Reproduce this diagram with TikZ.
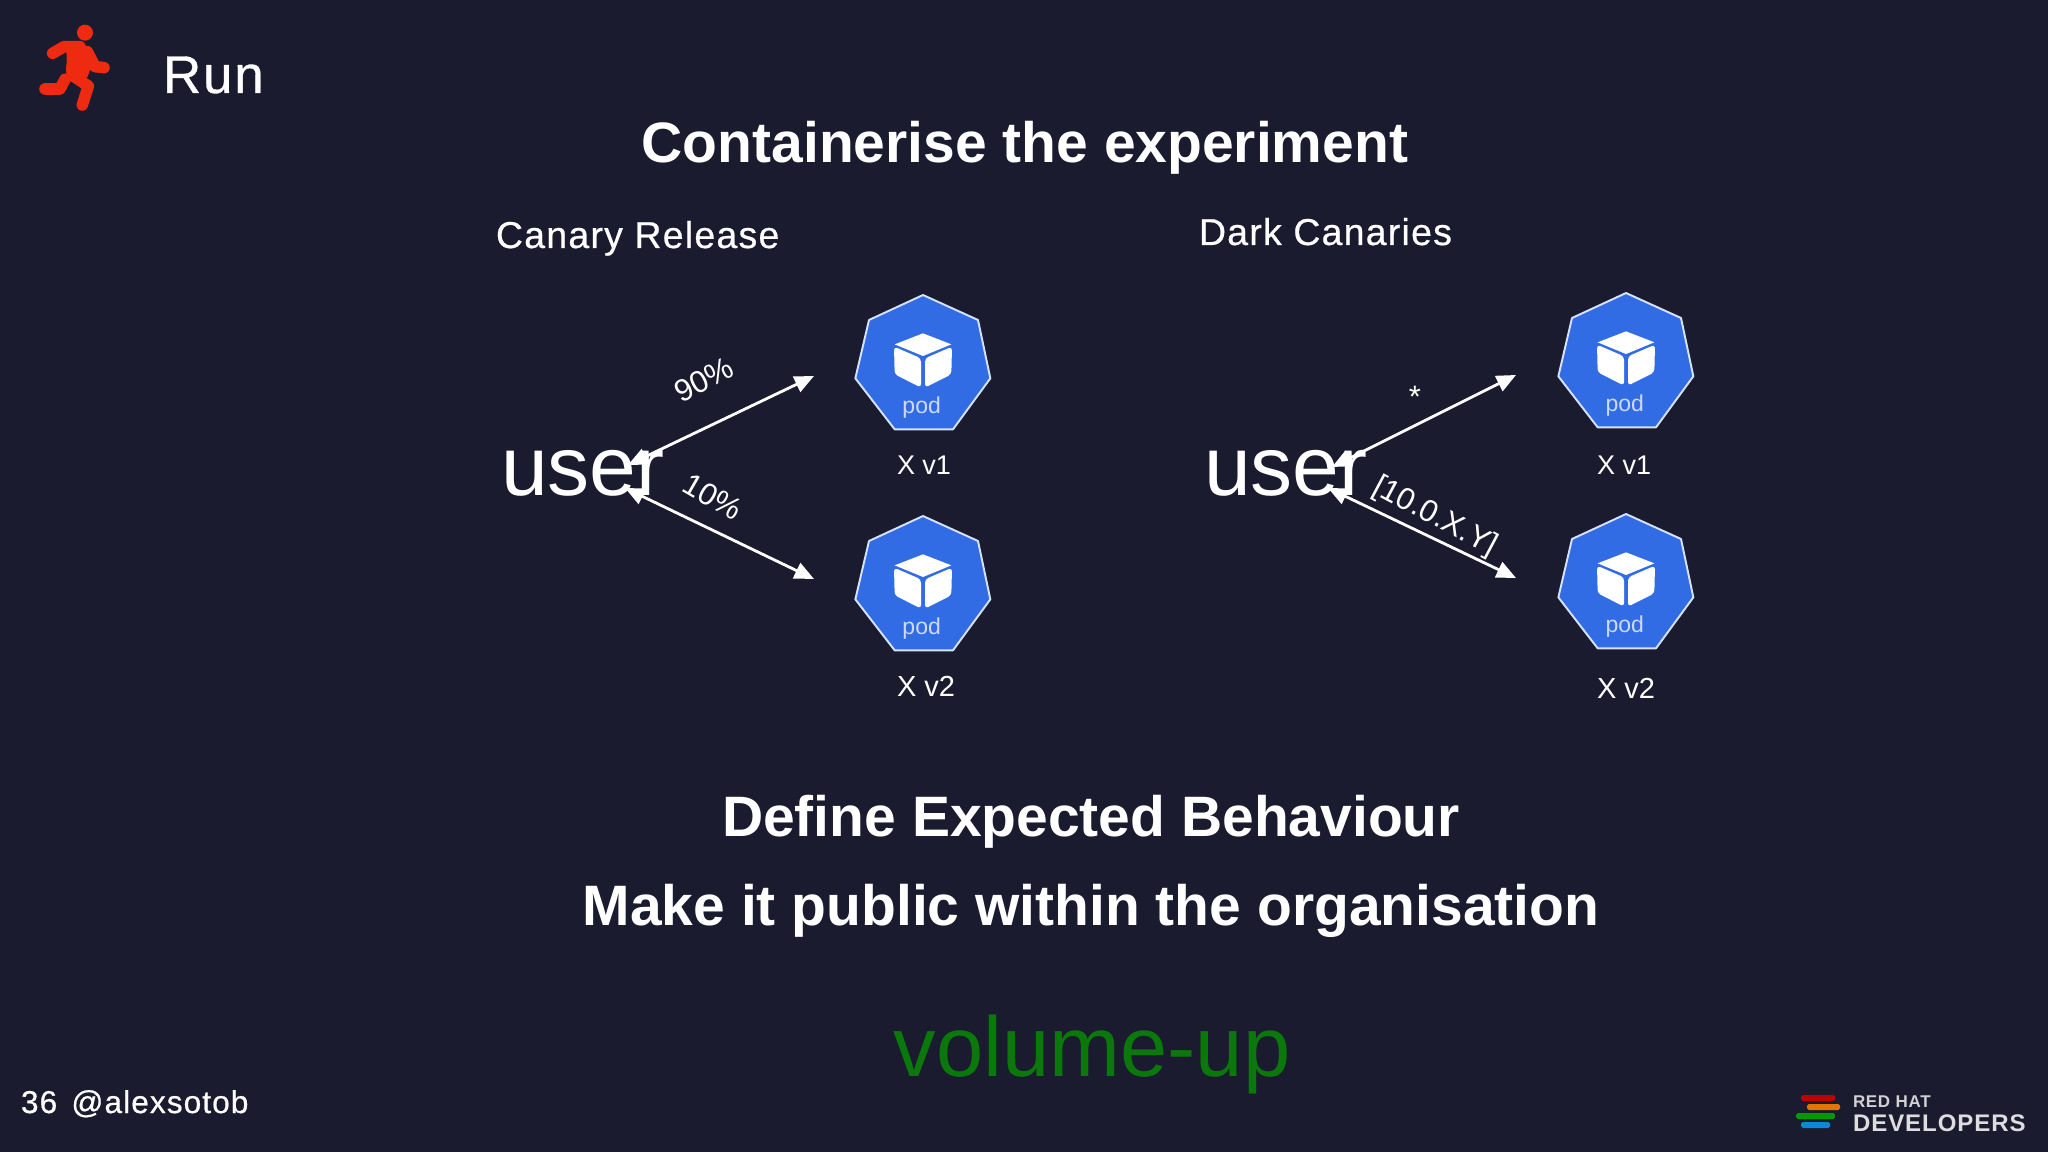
\documentclass[tikz,border=0pt]{standalone}
\usepackage{fontspec}
\setmainfont{Liberation Sans}
\newfontfamily\uifont{Liberation Sans}[LetterSpace=3.4,FakeBold=0.6]
\newfontfamily\logofont{Liberation Sans}[LetterSpace=4]
\usetikzlibrary{arrows.meta}
\definecolor{slidebg}{HTML}{1A1B2E}
\definecolor{podblue}{HTML}{326CE5}
\definecolor{runred}{HTML}{EE2A10}
\definecolor{volgreen}{HTML}{0A780A}
\newcommand\pxf[1]{\fontsize{\fpeval{#1*0.56906}}{\fpeval{#1*0.68}}\selectfont}
\tikzset{
  x=0.02cm,y=-0.02cm,
  txt/.style={text=white,inner sep=0pt,outer sep=0pt,anchor=base},
  head/.style={txt,font=\pxf{57}\bfseries},
  sub/.style={txt,anchor=base west,font=\uifont\pxf{37.4}},
  usr/.style={txt,anchor=base west,font=\pxf{84}},
  ver/.style={txt,anchor=base west,font=\pxf{27}},
  vertwo/.style={txt,anchor=base west,font=\pxf{29}},
  edge/.style={txt,font=\pxf{31}},
  conn/.style={draw=white,line width=1.6pt,{Triangle[length=11pt,width=9.5pt]}-{Triangle[length=11pt,width=9.5pt]}},
  limb/.style={draw=runred,line width=6.6pt,line cap=round,line join=round},
  pod/.pic={
    % crop units: 3 per pixel, origin at the top vertex of the heptagon
    \begin{scope}[x=0.00667cm,y=-0.00667cm]
      \fill[podblue,draw=white!80!podblue,line width=1.1pt,line join=round]
        (0,0) -- (165,75) -- (202,250) -- (90,403) -- (-85,403) -- (-203,250) -- (-162,75) -- cycle;
      \fill[white] (-85,148) -- (0,115) -- (85,148) -- (0,183) -- cycle;
      \fill[white,rounded corners=2pt] (-87,155) -- (-6,190) -- (-6,278) -- (-45,258) -- (-85,238) -- cycle;
      \fill[white,rounded corners=2pt] (87,155) -- (6,190) -- (6,278) -- (45,258) -- (85,238) -- cycle;
      \node[inner sep=0pt,text=white!75!podblue,font=\pxf{23}] (-label) at (-4,338) {pod};
    \end{scope}
  }
}
\begin{document}
\begin{tikzpicture}
\useasboundingbox (0,0) rectangle (2048,1152);
\fill[slidebg] (0,0) rectangle (2048,1152);

% run icon
\begin{scope}[x=0.00667cm,y=-0.00667cm]
  \fill[runred] (255,98) circle (24);
  \fill[runred,rounded corners=6pt] (192,130) -- (258,130) -- (278,175) -- (260,250) -- (192,232) -- (205,170) -- cycle;
  \draw[limb] (158,160) -- (192,140) -- (240,140);
  \draw[limb] (262,155) -- (285,200) -- (312,203);
  \draw[limb] (215,225) -- (265,258) -- (247,315);
  \draw[limb] (135,267) -- (180,267) -- (195,238);
\end{scope}
\node[txt,anchor=base west,font=\uifont\pxf{53}] (run) at (163,93) {Run};

\node[head] (title) at (1025,163) {Containerise the experiment};
\node[sub] (canary) at (496,248) {Canary Release};
\node[sub] (dark) at (1199,245) {Dark Canaries};

\node[usr] (user1) at (501,495) {user};
\node[usr] (user2) at (1204,495) {user};

\pic (pod1) at (923,295) {pod};
\pic (pod2) at (923,516) {pod};
\pic (pod3) at (1626,293) {pod};
\pic (pod4) at (1626,514) {pod};

\node[ver] (v1a) at (897,474) {X v1};
\node[vertwo] (v2a) at (897,696) {X v2};
\node[ver] (v1b) at (1597,474) {X v1};
\node[vertwo] (v2b) at (1597,698) {X v2};

\coordinate (a1s) at (628,465); \coordinate (a1e) at (814,376);
\coordinate (a2s) at (625,488); \coordinate (a2e) at (814,579);
\coordinate (b1s) at (1332,467); \coordinate (b1e) at (1516,375);
\coordinate (b2s) at (1328,488); \coordinate (b2e) at (1516,578);
\draw[conn] (a1s) -- (a1e);
\draw[conn] (a2s) -- (a2e);
\draw[conn] (b1s) -- (b1e);
\draw[conn] (b2s) -- (b2e);

\node[edge,anchor=center,rotate=27] (l90) at (704,380) {90\%};
\node[edge,anchor=center,rotate=-30] (l10) at (713,497) {10\%};
\node[edge,anchor=center] (lstar) at (1415,397) {*};
\node[edge,anchor=center,rotate=-28] (lip) at (1435,517) {[10.0.X.Y]};

\node[head] (def) at (1091,836) {Define Expected Behaviour};
\node[head] (pub) at (1091,925) {Make it public within the organisation};
\node[txt,text=volgreen,font=\pxf{85}] (vol) at (1092,1076) {volume-up};
\node[txt,anchor=base west,font=\uifont\pxf{31.6}] (foot) at (21,1113) {36\hspace{0.45em}@alexsotob};

% logo
\fill[red!75!black,rounded corners=1pt] (1801,1095) rectangle (1835,1101);
\fill[orange!90!black,rounded corners=1pt] (1807,1104) rectangle (1840,1110);
\fill[green!60!black,rounded corners=1pt] (1796,1113) rectangle (1835,1119);
\fill[cyan!70!blue,rounded corners=1pt] (1801,1122) rectangle (1830,1128);
\node[txt,anchor=base west,text=white!80!slidebg,font=\logofont\bfseries\pxf{17}] (rh) at (1853,1107) {RED HAT};
\node[txt,anchor=base west,text=white!85!slidebg,font=\logofont\bfseries\pxf{24}] (dev) at (1853,1131) {DEVELOPERS};
\end{tikzpicture}
\end{document}
